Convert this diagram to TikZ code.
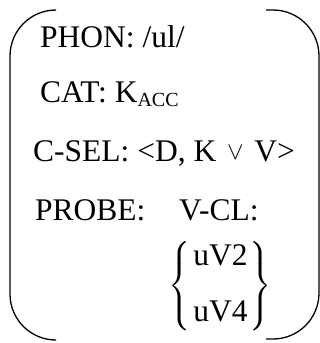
\documentclass[tikz,border=0pt]{standalone}
\usepackage{exscale}
\usepackage{fontspec}
\setmainfont{Liberation Serif}
\usepackage{tikz}
\usetikzlibrary{positioning}
\tikzset{
  avm/.style={inner sep=0pt, anchor=base west, font=\fontsize{31.5}{36}\selectfont},
  avm brk/.style={line width=1.3pt, rounded corners=46pt},
}
\newcommand{\subsc}[1]{\raisebox{-0.14em}{\fontsize{20}{20}\selectfont #1}}
\newcommand{\orsym}{\hspace{0.34em}\raisebox{2pt}{\fontsize{25}{25}\selectfont$\vee$}\hspace{0.34em}}

\begin{document}
\begin{tikzpicture}[x=1pt, y=-1pt]
  \useasboundingbox (0,0) rectangle (320,343);
  % feature lines
  \node[avm] (phon) at (40,47) {PHON: /ul/};
  \node[avm] (cat) at (40,102) {CAT: K\subsc{ACC}};
  \node[avm] (csel) at (33,161) {C-SEL: {<}D, K\orsym V{>}};
  \node[avm] (probe) at (35,220) {PROBE:};
  \node[avm] (vcl) at (179,220) {V-CL:};
  \node[avm, anchor=north west] (vals) at (168,240)
    {$\left\{\begin{tabular}{@{\hspace{3pt}}l@{\hspace{2pt}}}uV2\\[20pt]uV4\end{tabular}\right\}$};
  % outer brackets
  \draw[avm brk] (54,10) -| (10,340) -- (54,340);
  \draw[avm brk] (266,10) -| (319,339) -- (266,339);
\end{tikzpicture}
\end{document}
